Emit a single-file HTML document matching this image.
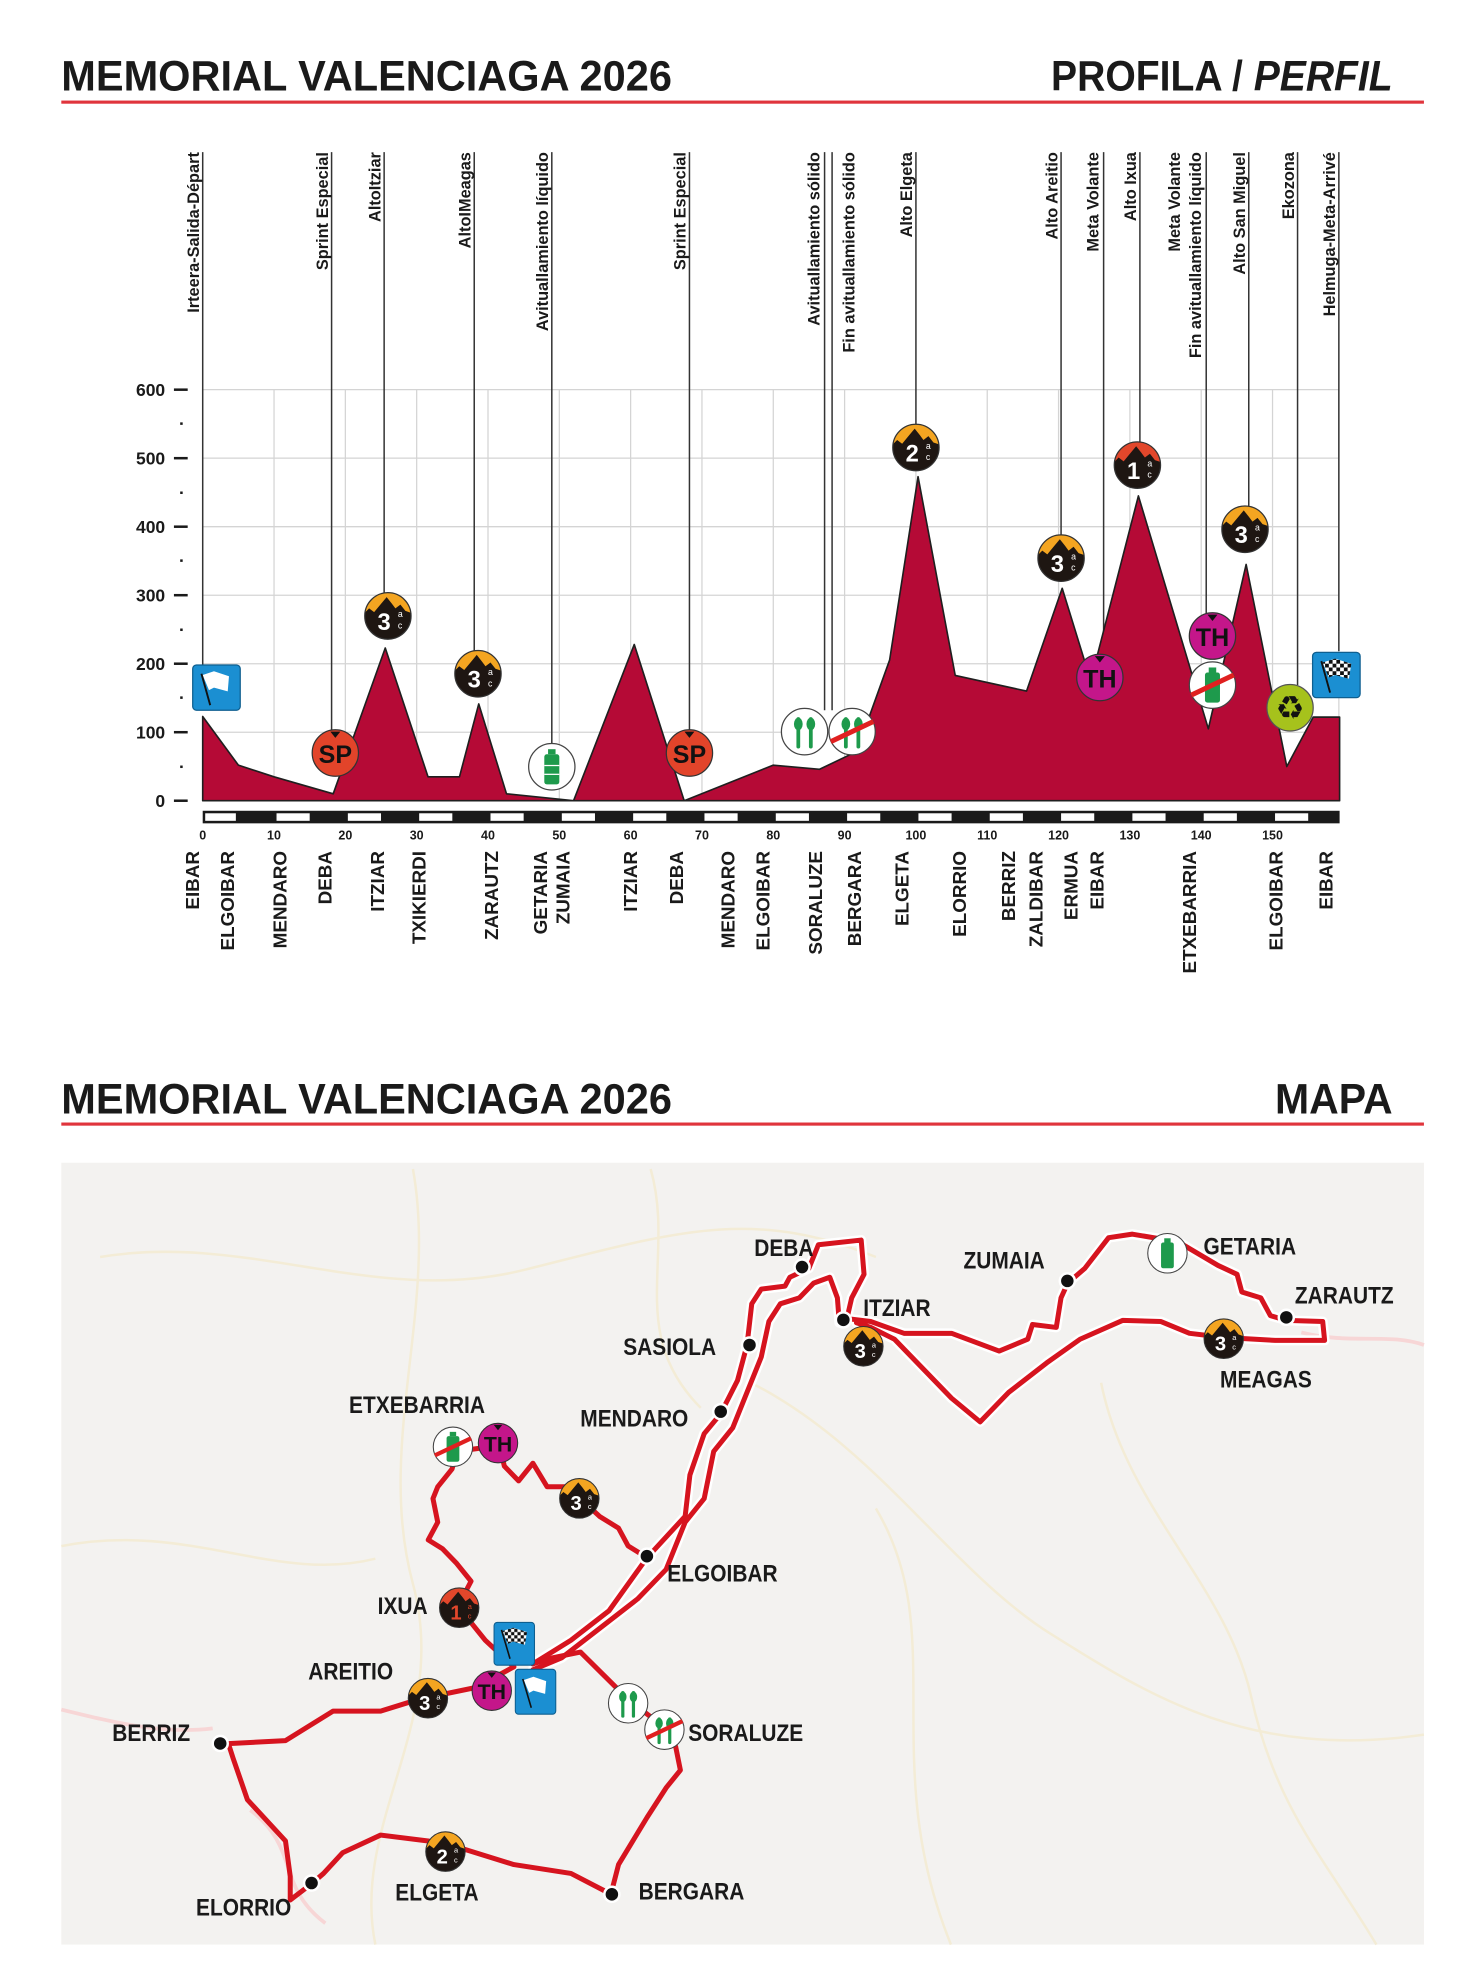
<!DOCTYPE html>
<html><head><meta charset="utf-8"><style>
html,body{margin:0;padding:0;background:#fff}
svg{display:block}
text{font-family:"Liberation Sans",sans-serif}
.t{font-family:"Liberation Sans Narrow","Liberation Sans",sans-serif;font-weight:bold;fill:#1a1a1a}
.lb{font-size:13px;font-weight:bold;fill:#1a1a1a}
.tw{font-size:15px;font-weight:bold;fill:#1a1a1a}
.km{font-size:10px;font-weight:bold;fill:#1a1a1a}
.ya{font-size:14px;font-weight:bold;fill:#1a1a1a}
.ml{font-family:"Liberation Sans Narrow","Liberation Sans",sans-serif;font-weight:bold;font-size:19px;fill:#1a1a1a}
</style></head><body>
<svg width="1484" height="1971" viewBox="0 0 1186 1568" preserveAspectRatio="none" xmlns="http://www.w3.org/2000/svg">
<defs>
<clipPath id="cc"><circle r="18.5"/></clipPath>
<pattern id="chk" width="6" height="6" patternUnits="userSpaceOnUse"><rect width="6" height="6" fill="#fff"/><rect width="3" height="3" fill="#111"/><rect x="3" y="3" width="3" height="3" fill="#111"/></pattern>
</defs>

<text class="t" x="49" y="72" font-size="34" textLength="488" lengthAdjust="spacingAndGlyphs">MEMORIAL VALENCIAGA 2026</text>
<text class="t" x="840" y="72" font-size="34" textLength="273" lengthAdjust="spacingAndGlyphs">PROFILA / <tspan font-style="italic">PERFIL</tspan></text>
<rect x="49" y="80" width="1089" height="2.5" fill="#e0343c"/>

<g stroke="#d4d4d4" stroke-width="1">
<line x1="162" y1="310" x2="1070" y2="310"/><line x1="162" y1="364.5" x2="1070" y2="364.5"/><line x1="162" y1="419" x2="1070" y2="419"/><line x1="162" y1="473.5" x2="1070" y2="473.5"/><line x1="162" y1="528" x2="1070" y2="528"/><line x1="162" y1="582.5" x2="1070" y2="582.5"/>
<line x1="219" y1="310" x2="219" y2="637"/><line x1="276" y1="310" x2="276" y2="637"/><line x1="333" y1="310" x2="333" y2="637"/><line x1="390" y1="310" x2="390" y2="637"/><line x1="447" y1="310" x2="447" y2="637"/><line x1="504" y1="310" x2="504" y2="637"/><line x1="561" y1="310" x2="561" y2="637"/><line x1="618" y1="310" x2="618" y2="637"/><line x1="675" y1="310" x2="675" y2="637"/><line x1="732" y1="310" x2="732" y2="637"/><line x1="789" y1="310" x2="789" y2="637"/><line x1="846" y1="310" x2="846" y2="637"/><line x1="903" y1="310" x2="903" y2="637"/><line x1="960" y1="310" x2="960" y2="637"/><line x1="1017" y1="310" x2="1017" y2="637"/><line x1="1070" y1="310" x2="1070" y2="637"/>
</g>

<g class="ya" text-anchor="end">
<text x="132" y="315">600</text><text x="132" y="369.5">500</text><text x="132" y="424">400</text><text x="132" y="478.5">300</text><text x="132" y="533">200</text><text x="132" y="587.5">100</text><text x="132" y="642">0</text>
</g>
<g stroke="#1a1a1a" stroke-width="2">
<line x1="139" y1="310" x2="150" y2="310"/><line x1="139" y1="364.5" x2="150" y2="364.5"/><line x1="139" y1="419" x2="150" y2="419"/><line x1="139" y1="473.5" x2="150" y2="473.5"/><line x1="139" y1="528" x2="150" y2="528"/><line x1="139" y1="582.5" x2="150" y2="582.5"/><line x1="139" y1="637" x2="150" y2="637"/>
<line x1="144" y1="337" x2="146" y2="337"/><line x1="144" y1="392" x2="146" y2="392"/><line x1="144" y1="446" x2="146" y2="446"/><line x1="144" y1="501" x2="146" y2="501"/><line x1="144" y1="555" x2="146" y2="555"/><line x1="144" y1="610" x2="146" y2="610"/>
</g>

<g stroke="#333" stroke-width="1.2">
<line x1="162" y1="121" x2="162" y2="530"/>
<line x1="265" y1="121" x2="265" y2="582"/>
<line x1="307" y1="121" x2="307" y2="472"/>
<line x1="379" y1="121" x2="379" y2="518"/>
<line x1="441" y1="121" x2="441" y2="592"/>
<line x1="551" y1="121" x2="551" y2="582"/>
<line x1="659" y1="121" x2="659" y2="565"/>
<line x1="665" y1="121" x2="665" y2="565"/>
<line x1="732" y1="121" x2="732" y2="338"/>
<line x1="848" y1="121" x2="848" y2="426"/>
<line x1="882" y1="121" x2="882" y2="522"/>
<line x1="911" y1="121" x2="911" y2="352"/>
<line x1="964" y1="121" x2="964" y2="488"/>
<line x1="998" y1="121" x2="998" y2="403"/>
<line x1="1037" y1="121" x2="1037" y2="545"/>
<line x1="1070" y1="121" x2="1070" y2="518"/>
</g>

<g class="lb" text-anchor="end">
<text transform="translate(159,121) rotate(-90)">Irteera-Salida-Départ</text>
<text transform="translate(262,121) rotate(-90)">Sprint Especial</text>
<text transform="translate(304,121) rotate(-90)">AltoItziar</text>
<text transform="translate(376,121) rotate(-90)">AltoIMeagas</text>
<text transform="translate(438,121) rotate(-90)">Avituallamiento líquido</text>
<text transform="translate(548,121) rotate(-90)">Sprint Especial</text>
<text transform="translate(655,121) rotate(-90)">Avituallamiento sólido</text>
<text transform="translate(683,121) rotate(-90)">Fin avituallamiento sólido</text>
<text transform="translate(729,121) rotate(-90)">Alto Elgeta</text>
<text transform="translate(845,121) rotate(-90)">Alto Areitio</text>
<text transform="translate(878,121) rotate(-90)">Meta Volante</text>
<text transform="translate(908,121) rotate(-90)">Alto Ixua</text>
<text transform="translate(943,121) rotate(-90)">Meta Volante</text>
<text transform="translate(960,121) rotate(-90)">Fin avituallamiento líquido</text>
<text transform="translate(995,121) rotate(-90)">Alto San Miguel</text>
<text transform="translate(1034,121) rotate(-90)">Ekozona</text>
<text transform="translate(1067,121) rotate(-90)">Helmuga-Meta-Arrivé</text>
</g>

<polygon fill="#b50a36" stroke="#1f1f1f" stroke-width="1.3" stroke-linejoin="round" points="162,637 162,570 190.5,608.7 219,618 266.3,631.5 307.9,515.5 342.1,618 367.2,618 382.6,560 404.8,631.5 458.4,637 506.9,512.7 546.8,637 618,608.7 655,612 684.7,597.8 711,525 733.7,379.2 763.4,537.3 820.4,549.8 848.9,468 871.7,541.6 909.8,394.5 965.7,579.8 995.9,449 1028.4,609.8 1049.5,570.5 1070.6,570.5 1070.6,637"/>

<rect x="162" y="645" width="908.6" height="10" fill="#1a1a1a"/>
<g fill="#fff">
<rect x="164" y="647" width="24.5" height="6"/><rect x="221" y="647" width="26.5" height="6"/><rect x="278" y="647" width="26.5" height="6"/><rect x="335" y="647" width="26.5" height="6"/><rect x="392" y="647" width="26.5" height="6"/><rect x="449" y="647" width="26.5" height="6"/><rect x="506" y="647" width="26.5" height="6"/><rect x="563" y="647" width="26.5" height="6"/><rect x="620" y="647" width="26.5" height="6"/><rect x="677" y="647" width="26.5" height="6"/><rect x="734" y="647" width="26.5" height="6"/><rect x="791" y="647" width="26.5" height="6"/><rect x="848" y="647" width="26.5" height="6"/><rect x="905" y="647" width="26.5" height="6"/><rect x="962" y="647" width="26.5" height="6"/><rect x="1019" y="647" width="26.5" height="6"/>
</g>
<g class="km" text-anchor="middle">
<text x="162" y="668">0</text><text x="219" y="668">10</text><text x="276" y="668">20</text><text x="333" y="668">30</text><text x="390" y="668">40</text><text x="447" y="668">50</text><text x="504" y="668">60</text><text x="561" y="668">70</text><text x="618" y="668">80</text><text x="675" y="668">90</text><text x="732" y="668">100</text><text x="789" y="668">110</text><text x="846" y="668">120</text><text x="903" y="668">130</text><text x="960" y="668">140</text><text x="1017" y="668">150</text>
</g>

<g class="tw" text-anchor="end">
<text transform="translate(159,677) rotate(-90)">EIBAR</text>
<text transform="translate(187,677) rotate(-90)">ELGOIBAR</text>
<text transform="translate(229,677) rotate(-90)">MENDARO</text>
<text transform="translate(265,677) rotate(-90)">DEBA</text>
<text transform="translate(307,677) rotate(-90)">ITZIAR</text>
<text transform="translate(340,677) rotate(-90)">TXIKIERDI</text>
<text transform="translate(398,677) rotate(-90)">ZARAUTZ</text>
<text transform="translate(437,677) rotate(-90)">GETARIA</text>
<text transform="translate(455,677) rotate(-90)">ZUMAIA</text>
<text transform="translate(509,677) rotate(-90)">ITZIAR</text>
<text transform="translate(546,677) rotate(-90)">DEBA</text>
<text transform="translate(587,677) rotate(-90)">MENDARO</text>
<text transform="translate(615,677) rotate(-90)">ELGOIBAR</text>
<text transform="translate(657,677) rotate(-90)">SORALUZE</text>
<text transform="translate(688,677) rotate(-90)">BERGARA</text>
<text transform="translate(726,677) rotate(-90)">ELGETA</text>
<text transform="translate(772,677) rotate(-90)">ELORRIO</text>
<text transform="translate(811,677) rotate(-90)">BERRIZ</text>
<text transform="translate(833,677) rotate(-90)">ZALDIBAR</text>
<text transform="translate(861,677) rotate(-90)">ERMUA</text>
<text transform="translate(882,677) rotate(-90)">EIBAR</text>
<text transform="translate(956,677) rotate(-90)">ETXEBARRIA</text>
<text transform="translate(1025,677) rotate(-90)">ELGOIBAR</text>
<text transform="translate(1065,677) rotate(-90)">EIBAR</text>
</g>

<g transform="translate(173,547)"><rect x="-19" y="-18" width="38" height="36" rx="3" fill="#1b8fd2" stroke="#0e5f90"/><path d="M-11,-10 L-2,-13 L10,-9 L9,3 L-2,0 L-6,2Z" fill="#fff"/><line x1="-12" y1="-11" x2="-5" y2="14" stroke="#111" stroke-width="1.5"/></g>
<g transform="translate(268,599)"><circle r="18.5" fill="#e2442a" stroke="#333"/><path d="M-4,-17 L4,-17 L0,-12Z" fill="#111"/><text y="8" font-size="20" font-weight="bold" text-anchor="middle" fill="#111" font-family="Liberation Sans Narrow,Liberation Sans,sans-serif">SP</text></g>
<g transform="translate(551,599)"><circle r="18.5" fill="#e2442a" stroke="#333"/><path d="M-4,-17 L4,-17 L0,-12Z" fill="#111"/><text y="8" font-size="20" font-weight="bold" text-anchor="middle" fill="#111" font-family="Liberation Sans Narrow,Liberation Sans,sans-serif">SP</text></g>
<g transform="translate(310,490)"><circle r="18.5" fill="#f4a521"/><path clip-path="url(#cc)" d="M-20,-1 L-15,-6 L-11,-3 L-6,-9 L-1,-15 L3,-10 L6,-6 L10,-9 L14,-4 L20,-2 V20 H-20Z" fill="#1e1612"/><circle r="18.5" fill="none" stroke="#333"/><text x="-3" y="11" font-size="19" font-weight="bold" fill="#fff" text-anchor="middle">3</text><text x="8" y="1" font-size="7" fill="#fff">a</text><text x="8" y="10" font-size="7" fill="#fff">c</text></g>
<g transform="translate(382,536)"><circle r="18.5" fill="#f4a521"/><path clip-path="url(#cc)" d="M-20,-1 L-15,-6 L-11,-3 L-6,-9 L-1,-15 L3,-10 L6,-6 L10,-9 L14,-4 L20,-2 V20 H-20Z" fill="#1e1612"/><circle r="18.5" fill="none" stroke="#333"/><text x="-3" y="11" font-size="19" font-weight="bold" fill="#fff" text-anchor="middle">3</text><text x="8" y="1" font-size="7" fill="#fff">a</text><text x="8" y="10" font-size="7" fill="#fff">c</text></g>
<g transform="translate(848,444)"><circle r="18.5" fill="#f4a521"/><path clip-path="url(#cc)" d="M-20,-1 L-15,-6 L-11,-3 L-6,-9 L-1,-15 L3,-10 L6,-6 L10,-9 L14,-4 L20,-2 V20 H-20Z" fill="#1e1612"/><circle r="18.5" fill="none" stroke="#333"/><text x="-3" y="11" font-size="19" font-weight="bold" fill="#fff" text-anchor="middle">3</text><text x="8" y="1" font-size="7" fill="#fff">a</text><text x="8" y="10" font-size="7" fill="#fff">c</text></g>
<g transform="translate(995,421)"><circle r="18.5" fill="#f4a521"/><path clip-path="url(#cc)" d="M-20,-1 L-15,-6 L-11,-3 L-6,-9 L-1,-15 L3,-10 L6,-6 L10,-9 L14,-4 L20,-2 V20 H-20Z" fill="#1e1612"/><circle r="18.5" fill="none" stroke="#333"/><text x="-3" y="11" font-size="19" font-weight="bold" fill="#fff" text-anchor="middle">3</text><text x="8" y="1" font-size="7" fill="#fff">a</text><text x="8" y="10" font-size="7" fill="#fff">c</text></g>
<g transform="translate(732,356)"><circle r="18.5" fill="#f4a521"/><path clip-path="url(#cc)" d="M-20,-1 L-15,-6 L-11,-3 L-6,-9 L-1,-15 L3,-10 L6,-6 L10,-9 L14,-4 L20,-2 V20 H-20Z" fill="#1e1612"/><circle r="18.5" fill="none" stroke="#333"/><text x="-3" y="11" font-size="19" font-weight="bold" fill="#fff" text-anchor="middle">2</text><text x="8" y="1" font-size="7" fill="#fff">a</text><text x="8" y="10" font-size="7" fill="#fff">c</text></g>
<g transform="translate(909,370)"><circle r="18.5" fill="#e2472b"/><path clip-path="url(#cc)" d="M-20,-1 L-15,-6 L-11,-3 L-6,-9 L-1,-15 L3,-10 L6,-6 L10,-9 L14,-4 L20,-2 V20 H-20Z" fill="#1e1612"/><circle r="18.5" fill="none" stroke="#333"/><text x="-3" y="11" font-size="19" font-weight="bold" fill="#fff" text-anchor="middle">1</text><text x="8" y="1" font-size="7" fill="#fff">a</text><text x="8" y="10" font-size="7" fill="#fff">c</text></g>
<g transform="translate(441,610)"><circle r="18.5" fill="#fff" stroke="#444"/><rect x="-3" y="-14" width="6" height="4" fill="#1e9a4c"/><rect x="-6" y="-10" width="12" height="24" rx="2" fill="#1e9a4c"/><line x1="-6" y1="-1" x2="6" y2="-1" stroke="#fff"/><line x1="-6" y1="6" x2="6" y2="6" stroke="#fff"/></g>
<g transform="translate(643,582)"><circle r="18.5" fill="#fff" stroke="#444"/><g stroke="#1e9a4c" stroke-width="3" stroke-linecap="round"><line x1="-5" y1="-10" x2="-5" y2="12"/><line x1="5" y1="-10" x2="5" y2="12"/></g><ellipse cx="-5" cy="-6" rx="3.5" ry="5" fill="#1e9a4c"/><ellipse cx="5" cy="-6" rx="3.5" ry="5" fill="#1e9a4c"/></g>
<g transform="translate(681,582)"><circle r="18.5" fill="#fff" stroke="#444"/><g stroke="#1e9a4c" stroke-width="3" stroke-linecap="round"><line x1="-5" y1="-10" x2="-5" y2="12"/><line x1="5" y1="-10" x2="5" y2="12"/></g><ellipse cx="-5" cy="-6" rx="3.5" ry="5" fill="#1e9a4c"/><ellipse cx="5" cy="-6" rx="3.5" ry="5" fill="#1e9a4c"/><line x1="-17" y1="8" x2="17" y2="-8" stroke="#e02020" stroke-width="4"/></g>
<g transform="translate(879,539)"><circle r="18.5" fill="#c4168a" stroke="#333"/><path d="M-4,-17 L4,-17 L0,-12Z" fill="#111"/><text y="8" font-size="20" font-weight="bold" text-anchor="middle" fill="#111" font-family="Liberation Sans Narrow,Liberation Sans,sans-serif">TH</text></g>
<g transform="translate(969,506)"><circle r="18.5" fill="#c4168a" stroke="#333"/><path d="M-4,-17 L4,-17 L0,-12Z" fill="#111"/><text y="8" font-size="20" font-weight="bold" text-anchor="middle" fill="#111" font-family="Liberation Sans Narrow,Liberation Sans,sans-serif">TH</text></g>
<g transform="translate(969,545)"><circle r="18.5" fill="#fff" stroke="#444"/><rect x="-3" y="-14" width="6" height="4" fill="#1e9a4c"/><rect x="-6" y="-10" width="12" height="24" rx="2" fill="#1e9a4c"/><line x1="-17" y1="8" x2="17" y2="-8" stroke="#e02020" stroke-width="4"/></g>
<g transform="translate(1031,563)"><circle r="18.5" fill="#a6c21c" stroke="#555"/><text y="9" font-size="26" text-anchor="middle" fill="#111" font-family="DejaVu Sans,sans-serif">♻</text></g>
<g transform="translate(1068,537)"><rect x="-19" y="-18" width="38" height="36" rx="3" fill="#1b8fd2" stroke="#0e5f90"/><path d="M-11,-10 L-1,-13 L12,-9 L10,3 L-1,0 L-6,2Z" fill="url(#chk)"/><line x1="-12" y1="-11" x2="-5" y2="14" stroke="#111" stroke-width="1.5"/></g>

<text class="t" x="49" y="886" font-size="34" textLength="488" lengthAdjust="spacingAndGlyphs">MEMORIAL VALENCIAGA 2026</text>
<text class="t" x="1019" y="886" font-size="34" textLength="94" lengthAdjust="spacingAndGlyphs">MAPA</text>
<rect x="49" y="893" width="1089" height="2.5" fill="#e0343c"/>

<rect x="49" y="925" width="1089" height="622" fill="#f3f2f0"/>
<g fill="none" stroke="#f3ecd6" stroke-width="2">
<path d="M80,1000 C200,980 300,1040 420,1010 S600,960 700,1000"/>
<path d="M330,930 C350,1040 300,1150 330,1260 S280,1450 300,1547"/>
<path d="M600,1100 C700,1150 760,1250 840,1300 S1000,1400 1138,1380"/>
<path d="M700,1200 C760,1300 700,1400 760,1547"/>
<path d="M880,1100 C900,1200 980,1260 1000,1350 S1060,1480 1100,1547"/>
<path d="M49,1230 C150,1210 220,1260 300,1240"/>
<path d="M520,930 C540,1000 500,1060 560,1120"/>
</g>
<g fill="none" stroke="#f7d6d6" stroke-width="3">
<path d="M49,1360 C90,1370 130,1380 170,1375"/>
<path d="M200,1440 C240,1470 220,1500 260,1530"/>
<path d="M1040,1060 C1080,1070 1110,1060 1138,1070"/>
</g>

<g transform="matrix(0.7605,0,0,0.4696,0,835.3)" fill="none" stroke-linejoin="round" stroke-linecap="round">
<g stroke="#fff" stroke-width="10">
<path vector-effect="non-scaling-stroke" d="M560,1040 L600,1000 L640,950 L680,860 L720,790 L725,720 L740,650 L757,617 L775,560 L785,500 L790,430 L800,405 L825,400 L830,385 L850,370 L860,330 L905,322 L908,380 L895,420 L890,455 L915,460 L950,480 L1000,480 L1050,510 L1080,490 L1085,465 L1110,470 L1115,420 L1122,395 L1140,370 L1165,318 L1190,312 L1238,325 L1280,365 L1300,380 L1305,410 L1325,420 L1335,450 L1352,458 L1390,460 L1392,492 L1340,492 L1287,487 L1250,480 L1220,460 L1180,458 L1135,490 L1100,530 L1060,580 L1030,630 L1000,590 L970,540 L940,490 L915,470 L900,462"/>
<path vector-effect="non-scaling-stroke" d="M882,462 L880,420 L872,385 L855,395 L840,420 L820,430 L808,460 L800,520 L790,560 L780,600 L770,640 L750,680 L740,760 L720,800 L700,880 L670,930 L630,980 L590,1030 L560,1050"/>
</g>
<g stroke="#d6141f" stroke-width="5">
<path vector-effect="non-scaling-stroke" d="M560,1040 L600,1000 L640,950 L680,860 L720,790 L725,720 L740,650 L757,617 L775,560 L785,500 L790,430 L800,405 L825,400 L830,385 L850,370 L860,330 L905,322 L908,380 L895,420 L890,455 L915,460 L950,480 L1000,480 L1050,510 L1080,490 L1085,465 L1110,470 L1115,420 L1122,395 L1140,370 L1165,318 L1190,312 L1238,325 L1280,365 L1300,380 L1305,410 L1325,420 L1335,450 L1352,458 L1390,460 L1392,492 L1340,492 L1287,487 L1250,480 L1220,460 L1180,458 L1135,490 L1100,530 L1060,580 L1030,630 L1000,590 L970,540 L940,490 L915,470 L900,462"/>
<path vector-effect="non-scaling-stroke" d="M882,462 L880,420 L872,385 L855,395 L840,420 L820,430 L808,460 L800,520 L790,560 L780,600 L770,640 L750,680 L740,760 L720,800 L700,880 L670,930 L630,980 L590,1030 L560,1050"/>
<path vector-effect="non-scaling-stroke" d="M540,1045 L500,1080 L440,1100 L400,1120 L350,1120 L300,1170 L240,1175 L245,1200 L260,1270 L300,1340 L305,1400 L305,1440 L327,1413 L340,1395 L360,1360 L400,1330 L450,1340 L480,1350 L540,1380 L600,1395 L642,1430 L650,1380 L680,1300 L700,1250 L715,1220 L710,1180 L700,1150 L660,1100 L635,1060 L610,1020 L580,1030 L560,1040"/>
<path vector-effect="non-scaling-stroke" d="M540,1045 L510,1000 L490,960 L482,940 L495,900 L480,870 L465,845 L450,830 L460,800 L455,760 L460,740 L475,710 L480,680 L525,670 L530,705 L545,730 L560,700 L575,740 L600,740 L610,760 L630,790 L650,810 L660,840 L680,860"/>
</g>
</g>

<g fill="#111" stroke="#fff" stroke-width="2">
<circle cx="641" cy="1008" r="6"/><circle cx="853" cy="1019" r="6"/><circle cx="1028" cy="1048" r="6"/><circle cx="674" cy="1050" r="6"/><circle cx="599" cy="1070" r="6"/><circle cx="576" cy="1123" r="6"/><circle cx="517" cy="1238" r="6"/><circle cx="176" cy="1387" r="6"/><circle cx="249" cy="1498" r="6"/><circle cx="489" cy="1507" r="6"/>
</g>
<g class="ml" transform="scale(0.88,1)">
<text x="685" y="999">DEBA</text>
<text x="875" y="1009">ZUMAIA</text>
<text x="1093" y="998">GETARIA</text>
<text x="1176" y="1037">ZARAUTZ</text>
<text x="784" y="1047">ITZIAR</text>
<text x="566" y="1078">SASIOLA</text>
<text x="1108" y="1104">MEAGAS</text>
<text x="317" y="1124">ETXEBARRIA</text>
<text x="527" y="1135">MENDARO</text>
<text x="606" y="1258">ELGOIBAR</text>
<text x="343" y="1284">IXUA</text>
<text x="280" y="1336">AREITIO</text>
<text x="625" y="1385">SORALUZE</text>
<text x="102" y="1385">BERRIZ</text>
<text x="178" y="1524">ELORRIO</text>
<text x="359" y="1512">ELGETA</text>
<text x="580" y="1511">BERGARA</text>
</g>

<g transform="translate(933,997) scale(0.85)"><circle r="18.5" fill="#fff" stroke="#444"/><rect x="-3" y="-14" width="6" height="4" fill="#1e9a4c"/><rect x="-6" y="-10" width="12" height="24" rx="2" fill="#1e9a4c"/></g>
<g transform="translate(690,1071) scale(0.85)"><circle r="18.5" fill="#f4a521"/><path clip-path="url(#cc)" d="M-20,-1 L-15,-6 L-11,-3 L-6,-9 L-1,-15 L3,-10 L6,-6 L10,-9 L14,-4 L20,-2 V20 H-20Z" fill="#1e1612"/><circle r="18.5" fill="none" stroke="#333"/><text x="-3" y="11" font-size="19" font-weight="bold" fill="#fff" text-anchor="middle">3</text><text x="8" y="1" font-size="7" fill="#fff">a</text><text x="8" y="10" font-size="7" fill="#fff">c</text></g>
<g transform="translate(978,1065) scale(0.85)"><circle r="18.5" fill="#f4a521"/><path clip-path="url(#cc)" d="M-20,-1 L-15,-6 L-11,-3 L-6,-9 L-1,-15 L3,-10 L6,-6 L10,-9 L14,-4 L20,-2 V20 H-20Z" fill="#1e1612"/><circle r="18.5" fill="none" stroke="#333"/><text x="-3" y="11" font-size="19" font-weight="bold" fill="#fff" text-anchor="middle">3</text><text x="8" y="1" font-size="7" fill="#fff">a</text><text x="8" y="10" font-size="7" fill="#fff">c</text></g>
<g transform="translate(463,1192) scale(0.85)"><circle r="18.5" fill="#f4a521"/><path clip-path="url(#cc)" d="M-20,-1 L-15,-6 L-11,-3 L-6,-9 L-1,-15 L3,-10 L6,-6 L10,-9 L14,-4 L20,-2 V20 H-20Z" fill="#1e1612"/><circle r="18.5" fill="none" stroke="#333"/><text x="-3" y="11" font-size="19" font-weight="bold" fill="#fff" text-anchor="middle">3</text><text x="8" y="1" font-size="7" fill="#fff">a</text><text x="8" y="10" font-size="7" fill="#fff">c</text></g>
<g transform="translate(342,1351) scale(0.85)"><circle r="18.5" fill="#f4a521"/><path clip-path="url(#cc)" d="M-20,-1 L-15,-6 L-11,-3 L-6,-9 L-1,-15 L3,-10 L6,-6 L10,-9 L14,-4 L20,-2 V20 H-20Z" fill="#1e1612"/><circle r="18.5" fill="none" stroke="#333"/><text x="-3" y="11" font-size="19" font-weight="bold" fill="#fff" text-anchor="middle">3</text><text x="8" y="1" font-size="7" fill="#fff">a</text><text x="8" y="10" font-size="7" fill="#fff">c</text></g>
<g transform="translate(356,1473) scale(0.85)"><circle r="18.5" fill="#f4a521"/><path clip-path="url(#cc)" d="M-20,-1 L-15,-6 L-11,-3 L-6,-9 L-1,-15 L3,-10 L6,-6 L10,-9 L14,-4 L20,-2 V20 H-20Z" fill="#1e1612"/><circle r="18.5" fill="none" stroke="#333"/><text x="-3" y="11" font-size="19" font-weight="bold" fill="#fff" text-anchor="middle">2</text><text x="8" y="1" font-size="7" fill="#fff">a</text><text x="8" y="10" font-size="7" fill="#fff">c</text></g>
<g transform="translate(367,1279) scale(0.85)"><circle r="18.5" fill="#e2472b"/><path clip-path="url(#cc)" d="M-20,-1 L-15,-6 L-11,-3 L-6,-9 L-1,-15 L3,-10 L6,-6 L10,-9 L14,-4 L20,-2 V20 H-20Z" fill="#1e1612"/><circle r="18.5" fill="none" stroke="#333"/><text x="-3" y="11" font-size="19" font-weight="bold" fill="#e2472b" text-anchor="middle">1</text><text x="8" y="1" font-size="7" fill="#e2472b">a</text><text x="8" y="10" font-size="7" fill="#e2472b">c</text></g>
<g transform="translate(362,1151) scale(0.85)"><circle r="18.5" fill="#fff" stroke="#444"/><rect x="-3" y="-14" width="6" height="4" fill="#1e9a4c"/><rect x="-6" y="-10" width="12" height="24" rx="2" fill="#1e9a4c"/><line x1="-17" y1="8" x2="17" y2="-8" stroke="#e02020" stroke-width="4"/></g>
<g transform="translate(398,1148) scale(0.85)"><circle r="18.5" fill="#c4168a" stroke="#333"/><path d="M-4,-17 L4,-17 L0,-12Z" fill="#111"/><text y="8" font-size="20" font-weight="bold" text-anchor="middle" fill="#111" font-family="Liberation Sans Narrow,Liberation Sans,sans-serif">TH</text></g>
<g transform="translate(393,1345) scale(0.85)"><circle r="18.5" fill="#c4168a" stroke="#333"/><path d="M-4,-17 L4,-17 L0,-12Z" fill="#111"/><text y="8" font-size="20" font-weight="bold" text-anchor="middle" fill="#111" font-family="Liberation Sans Narrow,Liberation Sans,sans-serif">TH</text></g>
<g transform="translate(411,1306) scale(0.85)"><rect x="-19" y="-18" width="38" height="40" rx="3" fill="#1b8fd2" stroke="#0e5f90"/><path d="M-11,-10 L-1,-13 L12,-9 L10,3 L-1,0 L-6,2Z" fill="url(#chk)"/><line x1="-12" y1="-11" x2="-4" y2="16" stroke="#111" stroke-width="1.5"/></g>
<g transform="translate(428,1345) scale(0.85)"><rect x="-19" y="-20" width="38" height="42" rx="3" fill="#1b8fd2" stroke="#0e5f90"/><path d="M-11,-10 L-2,-13 L10,-9 L9,3 L-2,0 L-6,2Z" fill="#fff"/><line x1="-12" y1="-11" x2="-4" y2="16" stroke="#111" stroke-width="1.5"/></g>
<g transform="translate(502,1355) scale(0.85)"><circle r="18.5" fill="#fff" stroke="#444"/><g stroke="#1e9a4c" stroke-width="3" stroke-linecap="round"><line x1="-5" y1="-10" x2="-5" y2="12"/><line x1="5" y1="-10" x2="5" y2="12"/></g><ellipse cx="-5" cy="-6" rx="3.5" ry="5" fill="#1e9a4c"/><ellipse cx="5" cy="-6" rx="3.5" ry="5" fill="#1e9a4c"/></g>
<g transform="translate(531,1376) scale(0.85)"><circle r="18.5" fill="#fff" stroke="#444"/><g stroke="#1e9a4c" stroke-width="3" stroke-linecap="round"><line x1="-5" y1="-10" x2="-5" y2="12"/><line x1="5" y1="-10" x2="5" y2="12"/></g><ellipse cx="-5" cy="-6" rx="3.5" ry="5" fill="#1e9a4c"/><ellipse cx="5" cy="-6" rx="3.5" ry="5" fill="#1e9a4c"/><line x1="-17" y1="8" x2="17" y2="-8" stroke="#e02020" stroke-width="4"/></g>
</svg>
</body></html>
